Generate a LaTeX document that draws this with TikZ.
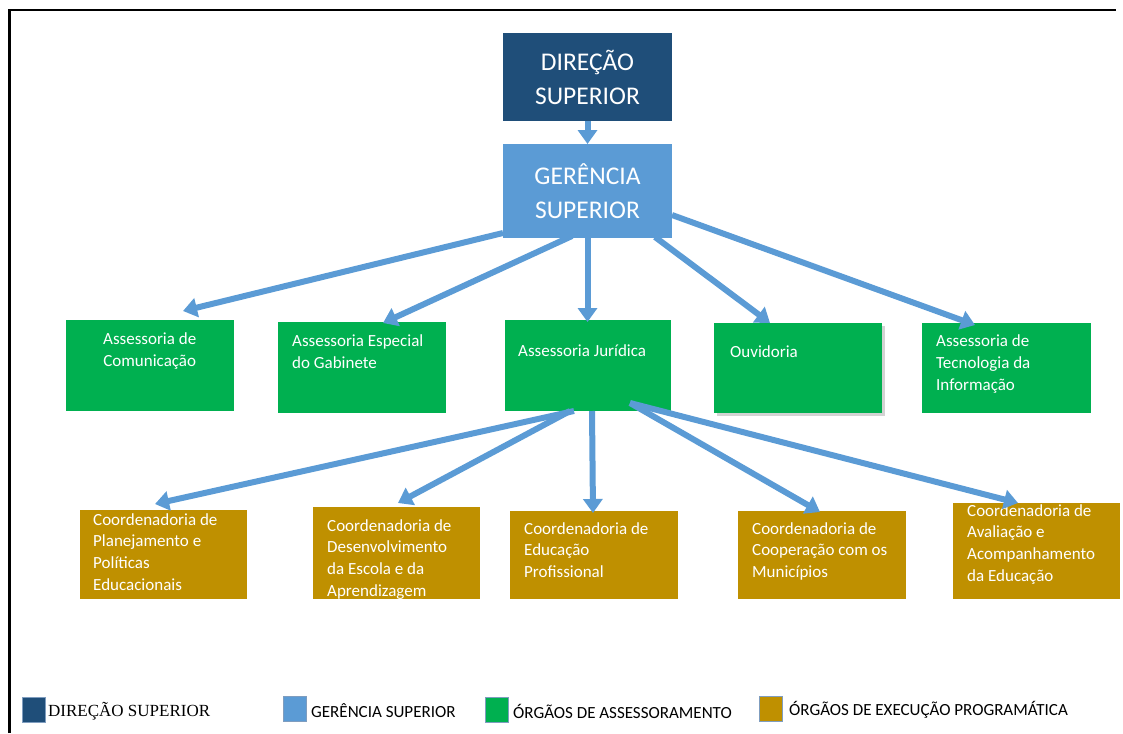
\documentclass[tikz,border=0pt]{standalone}
\usepackage{fontspec}
\setmainfont{Carlito}
\newfontfamily\legserif{Liberation Serif}
\usetikzlibrary{arrows.meta,calc,shadows}
\definecolor{dirblue}{HTML}{1F4E79}
\definecolor{gerblue}{HTML}{5B9BD5}
\definecolor{asgreen}{HTML}{00B050}
\definecolor{exgold}{HTML}{BF9000}
\definecolor{arrowblue}{HTML}{5B9BD5}
\definecolor{legedge}{HTML}{7F9DBF}
\begin{document}
\begin{tikzpicture}[x=1pt,y=-1pt,
  box/.style={anchor=north west, inner sep=0pt, outer sep=0pt},
  topbox/.style={box, text=white, align=center, font=\fontsize{25.5}{34}\selectfont},
  grbox/.style={box, fill=asgreen},
  gdbox/.style={box, fill=exgold},
  boxtext/.style={anchor=north west, inner sep=0pt, text=white, align=left, font=\fontsize{17}{22}\selectfont},
  gdtext/.style={boxtext, font=\fontsize{17}{21.7}\selectfont},
  conn/.style={draw=arrowblue, line width=6pt, -{Triangle[width=19pt,length=14pt]}},
  legsq/.style={box, draw=legedge, line width=1pt, minimum width=23pt, minimum height=25pt},
  legtext/.style={anchor=west, inner sep=0pt, text=black, font=\fontsize{17}{20}\selectfont},
  frameline/.style={draw=black, line width=2.5pt}
]
\useasboundingbox (0,0) rectangle (1123,733);
\coordinate (fa) at (9.5,733);
\coordinate (fb) at (9.5,10);
\coordinate (fc) at (1116,10);
\draw[frameline] (fa) -- (fb) -- (fc);

% top levels
\node[topbox, fill=dirblue, minimum width=169pt, minimum height=88pt] (dir) at (503,33) {DIREÇÃO\\SUPERIOR};
\node[topbox, fill=gerblue, minimum width=169pt, minimum height=94pt] (ger) at (503,144) {GERÊNCIA\\SUPERIOR};

% green boxes
\node[grbox, minimum width=168pt, minimum height=91pt] (a1) at (66,320) {};
\node[grbox, minimum width=168pt, minimum height=91pt] (a2) at (278,322) {};
\node[grbox, minimum width=166pt, minimum height=91pt] (a3) at (505,320) {};
\node[grbox, minimum width=168pt, minimum height=90pt,
  drop shadow={shadow xshift=2.5pt, shadow yshift=-2.5pt, opacity=0.35}] (a4) at (714,323) {};
\node[grbox, minimum width=169pt, minimum height=90pt] (a5) at (922,323) {};

\node[boxtext, align=center] (t1) at (103,332) {Assessoria de\\Comunicação};
\node[boxtext] (t2) at (292,334) {Assessoria Especial\\do Gabinete};
\node[boxtext] (t3) at (518,344) {Assessoria Jurídica};
\node[boxtext] (t4) at (730,345) {Ouvidoria};
\node[boxtext] (t5) at (936,334) {Assessoria de\\Tecnologia da\\Informação};

% gold boxes
\node[gdbox, minimum width=167pt, minimum height=89pt] (c1) at (80,510) {};
\node[gdbox, minimum width=167pt, minimum height=92pt] (c2) at (313,507) {};
\node[gdbox, minimum width=168pt, minimum height=88pt] (c3) at (510,511) {};
\node[gdbox, minimum width=168pt, minimum height=88pt] (c4) at (738,511) {};
\node[gdbox, minimum width=167pt, minimum height=96pt] (c5) at (953,503) {};

\node[gdtext] (u1) at (93,513) {Coordenadoria de\\Planejamento e\\Políticas\\Educacionais};
\node[gdtext] (u2) at (327,519) {Coordenadoria de\\Desenvolvimento\\da Escola e da\\Aprendizagem};
\node[gdtext] (u3) at (524,522) {Coordenadoria de\\Educação\\Profissional};
\node[gdtext] (u4) at (752,522) {Coordenadoria de\\Cooperação com os\\Municípios};
\node[gdtext] (u5) at (967,504) {Coordenadoria de\\Avaliação e\\Acompanhamento\\da Educação};

% connectors
\draw[conn] (dir.south) -- (ger.north);
\draw[conn] ($(ger.south west)+(0,-5)$) -- ($(a1.north west)+(117,-9)$);
\draw[conn] ($(ger.south west)+(69,-2)$) -- ($(a2.north west)+(105,1)$);
\draw[conn] (ger.south) -- ($(ger.south |- a3.north)+(0,2)$);
\draw[conn] ($(ger.south west)+(152,-1)$) -- ($(a4.north west)+(56,0)$);
\draw[conn] ($(ger.south east)+(0,-23)$) -- ($(a5.north west)+(53,2)$);

\draw[conn] ($(a3.south west)+(69,0)$) -- ($(c1.north west)+(75,-6)$);
\draw[conn] ($(a3.south west)+(65,0)$) -- ($(c2.north west)+(85,-4)$);
\draw[conn] ($(a3.south west)+(87,0)$) -- ($(c3.north west)+(83,2)$);
\draw[conn] ($(a3.south west)+(125,-8)$) -- ($(c4.north west)+(82,1)$);
\draw[conn] ($(a3.south west)+(125,-8)$) -- ($(c5.north west)+(65,0)$);

% legend
\node[legsq, fill=dirblue] (l1) at (22,697) {};
\node[legtext, font=\legserif\fontsize{17}{20}\selectfont] (lt1) at (48,711) {DIREÇÃO SUPERIOR};
\node[legsq, fill=gerblue] (l2) at (283,696) {};
\node[legtext] (lt2) at (311,711) {GERÊNCIA SUPERIOR};
\node[legsq, fill=asgreen] (l3) at (485,697) {};
\node[legtext] (lt3) at (513,711) {ÓRGÃOS DE ASSESSORAMENTO};
\node[legsq, fill=exgold] (l4) at (759,696) {};
\node[legtext] (lt4) at (789,710) {ÓRGÃOS DE EXECUÇÃO PROGRAMÁTICA};
\end{tikzpicture}
\end{document}
